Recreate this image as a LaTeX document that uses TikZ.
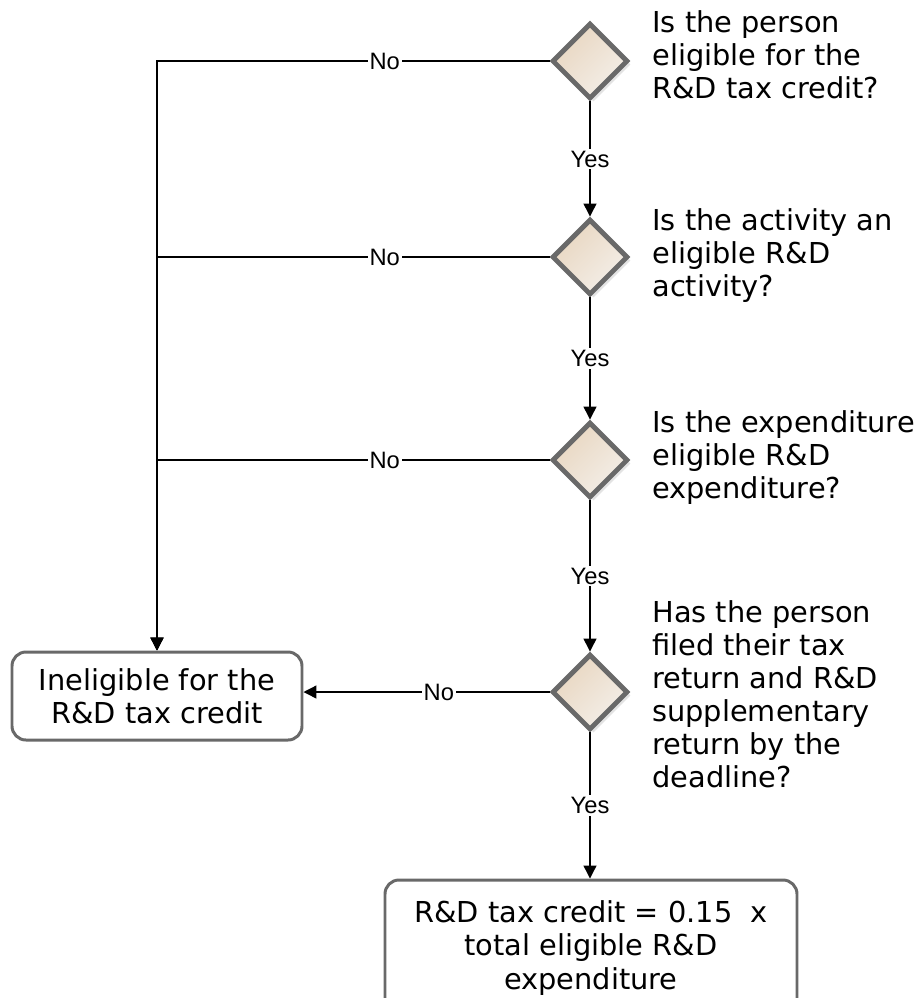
\documentclass[tikz,border=0pt]{standalone}
\usepackage{fontspec}
\usepackage{xcolor}
\usepackage{tikz}
\usetikzlibrary{shapes.geometric,arrows.meta,shadows}
\setmainfont{DejaVu Sans}
\newfontfamily\lblfont{Liberation Sans}
\definecolor{edgegray}{RGB}{105,105,105}
\definecolor{beigedark}{RGB}{232,214,192}
\definecolor{beigelight}{RGB}{244,239,233}

\begin{document}
\begin{tikzpicture}
[dia/.style={diamond,minimum width=1.52cm,minimum height=1.52cm,inner sep=0pt,draw=edgegray,line width=2.8pt,
  top color=beigedark,bottom color=beigelight,shading angle=45,
  drop shadow={opacity=0.22,shadow xshift=0.07cm,shadow yshift=-0.07cm}},
mybox/.style={rectangle,rounded corners=0.28cm,draw=edgegray,line width=1.7pt,align=center,
  font=\fontsize{16.4}{18.8}\selectfont},
question/.style={anchor=west,align=left,inner sep=0pt,font=\fontsize{16.4}{18.8}\selectfont},
conn/.style={line width=0.75pt,-{Triangle[length=0.26cm,width=0.26cm]}},
lbl/.style={fill=white,inner sep=1pt,font=\lblfont\fontsize{13.5}{15}\selectfont},
]
\useasboundingbox (0,0) rectangle (18.32,-19.96);

\node [dia] (d1) at (11.8,-1.22){};
\node [dia] (d2) at (11.8,-5.14){};
\node [dia] (d3) at (11.8,-9.2){};
\node [dia] (d4) at (11.8,-13.84){};
\node [question] (q1) at (13.04,-1.1){Is the person\\eligible for the\\R\&D tax credit?};
\node [question] (q2) at (13.04,-5.12){Is the activity an\\eligible R\&D\\activity?};
\node [question] (q3) at (13.04,-9.16){Is the expenditure\\eligible R\&D\\expenditure?};
\node [question] (q4) at (13.04,-13.88){Has the person\\filed their tax\\return and R\&D\\supplementary\\return by the\\deadline?};
\node [mybox,minimum width=5.8cm,minimum height=1.76cm] (inel) at (3.14,-13.92){Ineligible for the\\R\&D tax credit};
\node [mybox,minimum width=8.24cm,minimum height=2.72cm] (res) at (11.82,-18.96){R\&D tax credit = 0.15\ \ x\\total eligible R\&D\\expenditure};

% yes branch
\draw[conn] (d1) -- (d2) node[lbl,midway]{Yes};
\draw[conn] (d2) -- (d3) node[lbl,midway]{Yes};
\draw[conn] (d3) -- (d4) node[lbl,midway]{Yes};
\draw[conn] (d4) -- (d4 |- res.north) node[lbl,midway]{Yes};

% no branch
\draw[conn] (d1) -- node[lbl,pos=0.42]{No} (d1 -| inel) -- (inel);
\draw[conn] (d2) -- node[lbl,pos=0.42]{No} (d2 -| inel) -- (inel);
\draw[conn] (d3) -- node[lbl,pos=0.42]{No} (d3 -| inel) -- (inel);
\draw[conn] (d4) -- node[lbl,pos=0.45]{No} (d4 -| inel.east);
\end{tikzpicture}
\end{document}
